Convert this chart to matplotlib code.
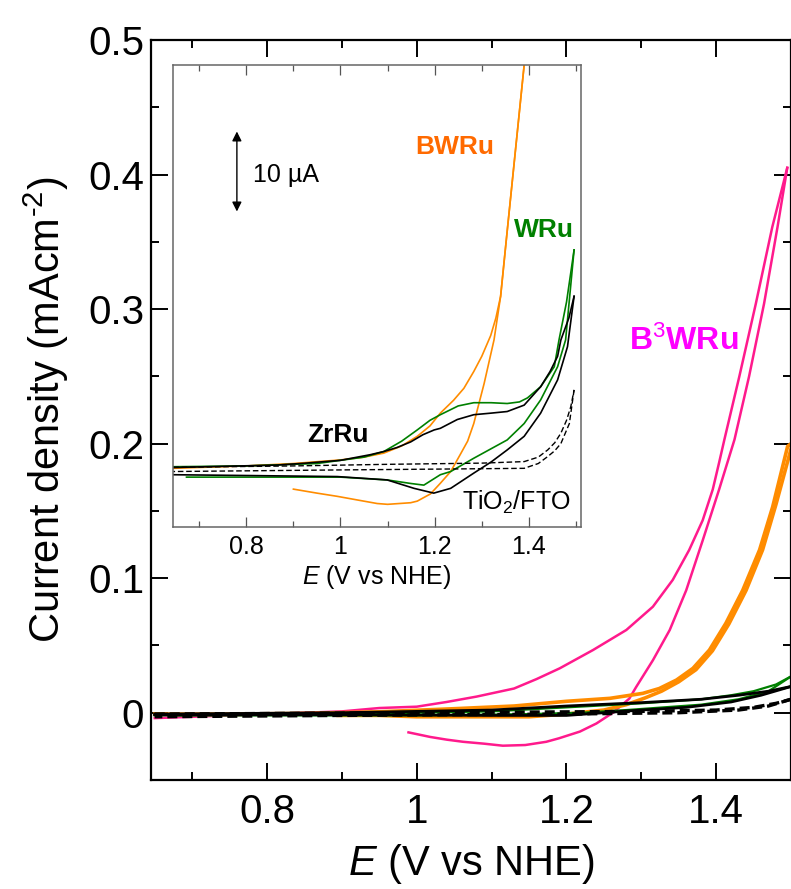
# Cyclic voltammograms with an inset (WRu / BWRu / B3WRu / ZrRu)
import matplotlib
matplotlib.use('Agg')
import matplotlib.pyplot as plt
from matplotlib.ticker import MultipleLocator

plt.rcParams['font.family'] = ['Liberation Sans', 'DejaVu Sans']
plt.rcParams['mathtext.fontset'] = 'custom'
plt.rcParams['mathtext.rm'] = 'Liberation Sans'
plt.rcParams['mathtext.it'] = 'Liberation Sans:italic'
plt.rcParams['mathtext.bf'] = 'Liberation Sans:bold'

# ---- main panel: current density (mA cm-2) vs E (V vs NHE) ----
b3_fwd_E = [0.65, 0.70, 0.75, 0.80, 0.85, 0.90, 0.95, 1.00, 1.04, 1.08, 1.13, 1.16,
            1.191, 1.2355, 1.28, 1.3155, 1.342, 1.364, 1.382, 1.3955, 1.404, 1.411,
            1.431, 1.453, 1.475, 1.495]
b3_fwd_I = [-0.004, -0.003, -0.002, -0.001, 0.000, 0.001, 0.0035, 0.0045, 0.008, 0.012,
            0.018, 0.025, 0.033, 0.0466, 0.0615, 0.0788, 0.0987, 0.121, 0.143, 0.166,
            0.186, 0.203, 0.250, 0.304, 0.361, 0.405]
b3_bwd_E = [1.495, 1.482, 1.464, 1.444, 1.4245, 1.404, 1.382, 1.36, 1.338, 1.3155,
            1.293, 1.284, 1.262, 1.24, 1.218, 1.19, 1.173, 1.145, 1.115, 1.09, 1.062,
            1.04, 1.018, 0.989]
b3_bwd_I = [0.405, 0.361, 0.304, 0.250, 0.203, 0.166, 0.128, 0.091, 0.0615, 0.039,
            0.019, 0.0105, 0.000, -0.008, -0.014, -0.019, -0.0216, -0.024, -0.0245,
            -0.023, -0.0216, -0.020, -0.018, -0.0146]

bw_fwd_E = [0.65, 0.75, 0.85, 0.95, 1.05, 1.13, 1.20, 1.258, 1.302, 1.324, 1.347,
            1.369, 1.391, 1.413, 1.4355, 1.458, 1.4755, 1.4955, 1.50]
bw_fwd_I = [-0.001, -0.001, -0.0005, 0.0007, 0.003, 0.005, 0.0085, 0.0107, 0.0144,
            0.018, 0.0243, 0.033, 0.0466, 0.0665, 0.091, 0.121, 0.153, 0.198, 0.200]
bw_bwd_E = [1.50, 1.48, 1.462, 1.44, 1.417, 1.395, 1.373, 1.35, 1.327, 1.305, 1.28,
            1.25, 1.20, 1.15, 1.10, 1.00, 0.95, 0.895]
bw_bwd_I = [0.196, 0.155, 0.121, 0.091, 0.066, 0.046, 0.032, 0.023, 0.016, 0.011,
            0.006, 0.002, -0.001, -0.003, -0.003, -0.003, -0.002, -0.002]

w_fwd_E = [0.65, 0.90, 1.10, 1.20, 1.30, 1.38, 1.42, 1.45, 1.48, 1.50]
w_fwd_I = [-0.002, -0.001, 0.001, 0.004, 0.007, 0.010, 0.013, 0.016, 0.021, 0.027]
w_bwd_E = [1.50, 1.47, 1.43, 1.38, 1.33, 1.28, 1.22, 1.15, 1.00, 0.67]
w_bwd_I = [0.027, 0.016, 0.010, 0.006, 0.004, 0.002, 0.000, -0.001, -0.002, -0.002]

zr_fwd_E = [0.65, 0.90, 1.10, 1.20, 1.30, 1.38, 1.43, 1.47, 1.50]
zr_fwd_I = [-0.001, 0.000, 0.002, 0.005, 0.0075, 0.010, 0.013, 0.016, 0.0195]
zr_bwd_E = [1.50, 1.46, 1.42, 1.36, 1.30, 1.25, 1.20, 1.10, 0.90, 0.65]
zr_bwd_I = [0.0195, 0.013, 0.008, 0.004, 0.002, 0.000, -0.002, -0.002, -0.0015, -0.0015]

ti_fwd_E = [0.65, 1.00, 1.30, 1.40, 1.45, 1.48, 1.50]
ti_fwd_I = [-0.001, 0.000, 0.001, 0.002, 0.004, 0.007, 0.010]
ti_bwd_E = [1.50, 1.47, 1.43, 1.35, 1.20, 0.90, 0.65]
ti_bwd_I = [0.010, 0.005, 0.002, 0.000, -0.001, -0.002, -0.003]

# ---- inset: current (uA, offset) vs E ----
bwi_fwd_E = [0.645, 0.80, 0.90, 1.00, 1.05, 1.092, 1.13, 1.163, 1.19, 1.212, 1.24,
             1.262, 1.283, 1.30, 1.319, 1.33, 1.34, 1.3525, 1.365, 1.3775, 1.39]
bwi_fwd_I = [0.2, 0.5, 0.8, 1.25, 1.6, 2.1, 3.0, 4.2, 5.5, 7.1, 8.7, 10.2, 12.3,
             14.2, 16.8, 19.0, 21.7, 29.0, 36.2, 43.4, 50.6]
bwi_bwd_E = [1.39, 1.3775, 1.365, 1.3525, 1.34, 1.326, 1.305, 1.283, 1.27, 1.255,
             1.234, 1.212, 1.191, 1.163, 1.149, 1.10, 1.078, 1.04, 0.993, 0.95, 0.90]
bwi_bwd_I = [50.6, 43.4, 36.2, 29.0, 21.7, 16.25, 10.8, 5.8, 3.6, 2.0, -0.2, -1.67,
             -3.0, -3.9, -4.1, -4.3, -4.2, -3.8, -3.3, -2.9, -2.4]

wi_fwd_E = [0.645, 0.80, 0.95, 1.05, 1.092, 1.13, 1.163, 1.19, 1.212, 1.25, 1.283,
            1.32, 1.354, 1.38, 1.397, 1.425, 1.454, 1.464, 1.48, 1.496]
wi_fwd_I = [0.4, 0.5, 0.8, 1.6, 2.3, 3.6, 5.0, 6.2, 6.9, 8.0, 8.4, 8.4, 8.3, 8.5,
            9.0, 10.4, 12.9, 16.25, 21.0, 27.5]
wi_bwd_E = [1.496, 1.478, 1.461, 1.425, 1.39, 1.354, 1.283, 1.234, 1.212, 1.177,
            1.15, 1.099, 1.00, 0.80, 0.673]
wi_bwd_I = [27.5, 16.25, 12.9, 8.75, 5.8, 3.75, 1.46, -0.2, -0.6, -1.9, -1.7,
            -1.25, -0.9, -0.9, -0.9]

zri_fwd_E = [0.645, 0.75, 0.863, 0.922, 1.00, 1.063, 1.092, 1.12, 1.149, 1.175, 1.199,
             1.212, 1.248, 1.283, 1.32, 1.354, 1.39, 1.425, 1.445, 1.461, 1.468, 1.485,
             1.496]
zri_fwd_I = [0.3, 0.45, 0.6, 0.83, 1.2, 1.9, 2.3, 2.8, 3.5, 4.4, 5.0, 5.2, 6.3, 6.9,
             7.1, 7.3, 8.1, 10.4, 12.3, 14.2, 16.25, 19.0, 21.7]
zri_bwd_E = [1.496, 1.482, 1.461, 1.425, 1.39, 1.354, 1.32, 1.283, 1.234, 1.198,
             1.156, 1.099, 0.993, 0.80, 0.645]
zri_bwd_I = [21.7, 15.4, 11.25, 7.1, 4.2, 2.5, 1.0, -0.4, -2.3, -2.9, -2.3, -1.25,
             -0.83, -0.7, -0.6]

tii_fwd_E = [0.645, 0.90, 1.10, 1.30, 1.39, 1.42, 1.44, 1.455, 1.468, 1.48, 1.489,
             1.496]
tii_fwd_I = [0.33, 0.5, 0.7, 0.85, 1.04, 1.6, 2.5, 3.4, 4.6, 6.2, 7.9, 10.0]
tii_bwd_E = [1.496, 1.486, 1.468, 1.455, 1.44, 1.42, 1.39, 1.20, 1.00, 0.645]
tii_bwd_I = [10.0, 5.8, 3.3, 2.4, 1.67, 0.8, 0.2, 0.1, 0.0, -0.2]

PINK = '#FF1A8C'
ORANGE = '#FF8C00'
GREEN = '#008000'

fig = plt.figure(figsize=(7.91, 8.89), dpi=100)
ax = fig.add_axes([0.1909, 0.1226, 0.8091, 0.8324])

ax.plot(b3_fwd_E, b3_fwd_I, color=PINK, lw=1.8)
ax.plot(b3_bwd_E, b3_bwd_I, color=PINK, lw=1.8)
ax.plot(bw_fwd_E, bw_fwd_I, color=ORANGE, lw=2.6)
ax.plot(bw_bwd_E, bw_bwd_I, color=ORANGE, lw=2.6)
ax.plot(w_fwd_E, w_fwd_I, color=GREEN, lw=1.6)
ax.plot(w_bwd_E, w_bwd_I, color=GREEN, lw=1.6)
ax.plot(zr_fwd_E, zr_fwd_I, color='black', lw=2.0)
ax.plot(zr_bwd_E, zr_bwd_I, color='black', lw=2.0)
ax.plot(ti_fwd_E, ti_fwd_I, color='black', lw=2.4, ls=(0, (3, 1.5)))
ax.plot(ti_bwd_E, ti_bwd_I, color='black', lw=2.4, ls=(0, (3, 1.5)))

ax.set_xlim(0.645, 1.5)
ax.set_ylim(-0.05, 0.5)
ax.xaxis.set_minor_locator(MultipleLocator(0.1))
ax.yaxis.set_minor_locator(MultipleLocator(0.05))
ax.set_xticks([0.8, 1.0, 1.2, 1.4])
ax.set_xticklabels(['0.8', '1', '1.2', '1.4'])
ax.set_yticks([0, 0.1, 0.2, 0.3, 0.4, 0.5])
ax.set_yticklabels(['0', '0.1', '0.2', '0.3', '0.4', '0.5'])
ax.tick_params(which='both', direction='in', top=True, right=True, width=1.4,
               labelsize=29)
ax.tick_params(which='major', length=12)
ax.tick_params(which='minor', length=6)
ax.tick_params(axis='x', pad=9)
ax.tick_params(axis='y', pad=5)
for s in ax.spines.values():
    s.set_linewidth(1.6)
ax.set_xlabel('$E$ (V vs NHE)', fontsize=30, labelpad=8)
ax.set_ylabel('Current density (mAcm$^{\\text{-2}}$)', fontsize=30, labelpad=12)
ax.text(1.284, 0.276, 'B$^3$WRu', color='#FF00FF', fontsize=23, fontweight='bold',
        ha='left', va='center')

# ---- inset ----
ins = fig.add_axes([0.2191, 0.4075, 0.5150, 0.5193])
ins.set_facecolor('white')
ins.plot(bwi_fwd_E, bwi_fwd_I, color=ORANGE, lw=1.2)
ins.plot(bwi_bwd_E, bwi_bwd_I, color=ORANGE, lw=1.2)
ins.plot(wi_fwd_E, wi_fwd_I, color=GREEN, lw=1.2)
ins.plot(wi_bwd_E, wi_bwd_I, color=GREEN, lw=1.2)
ins.plot(zri_fwd_E, zri_fwd_I, color='black', lw=1.2)
ins.plot(zri_bwd_E, zri_bwd_I, color='black', lw=1.2)
ins.plot(tii_fwd_E, tii_fwd_I, color='black', lw=1.0, ls=(0, (4, 2)))
ins.plot(tii_bwd_E, tii_bwd_I, color='black', lw=1.0, ls=(0, (4, 2)))

ins.set_xlim(0.645, 1.51)
ins.set_ylim(-7.1, 50.6)
ins.set_yticks([])
ins.set_xticks([0.8, 1.0, 1.2, 1.4])
ins.set_xticklabels(['0.8', '1', '1.2', '1.4'])
ins.xaxis.set_minor_locator(MultipleLocator(0.1))
ins.tick_params(which='both', direction='in', top=True, width=0.9, color='#555555',
                labelsize=18, pad=6)
ins.tick_params(which='major', length=7)
ins.tick_params(which='minor', length=4)
for s in ins.spines.values():
    s.set_linewidth(1.1)
    s.set_color('#666666')
ins.set_xlabel('$E$ (V vs NHE)', fontsize=18, labelpad=3)

ins.annotate('', xy=(0.78, 42.3), xytext=(0.78, 32.3),
             arrowprops=dict(arrowstyle='<|-|>', color='black', lw=1.0,
                             mutation_scale=14, shrinkA=0, shrinkB=0))
ins.text(0.815, 36.9, '10 \u00b5A', fontsize=18, ha='left', va='center')
ins.text(1.159, 40.4, 'BWRu', color='#FF6A00', fontsize=19, fontweight='bold',
         ha='left', va='center')
ins.text(1.368, 30.0, 'WRu', color=GREEN, fontsize=19, fontweight='bold',
         ha='left', va='center')
ins.text(0.929, 4.4, 'ZrRu', color='black', fontsize=19, fontweight='bold',
         ha='left', va='center')
ins.text(1.259, -4.0, 'TiO$_2$/FTO', color='black', fontsize=18,
         ha='left', va='center')

fig.savefig('out.png', dpi=100)
